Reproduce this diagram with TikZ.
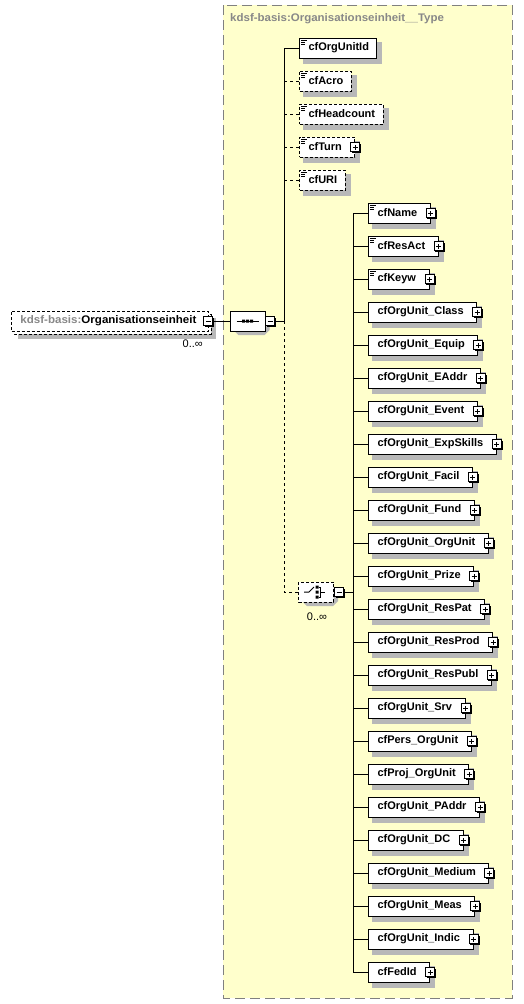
\documentclass[tikz,border=0pt]{standalone}
\usepackage{fontspec}
\usepackage{graphicx}
\setmainfont{Liberation Sans}
\usetikzlibrary{shapes.misc}
\pgfdeclarelayer{bglayer}
\pgfdeclarelayer{shlayer}
\pgfsetlayers{bglayer,shlayer,main}
\definecolor{bgyellow}{HTML}{FFFFCC}
\definecolor{bordergray}{HTML}{808080}
\definecolor{shgray}{HTML}{B8B8B8}
\definecolor{titlegray}{HTML}{888888}
\tikzset{
  conn/.style={draw=black,line width=1pt},
  dconn/.style={conn,dash pattern=on 3pt off 3pt},
  elbase/.style={draw=black,fill=white,line width=1pt,minimum height=20pt,
    inner xsep=0pt,inner ysep=0pt,anchor=west,font=\bfseries\fontsize{11}{13}\selectfont},
  optbox/.style={dash pattern=on 3pt off 2pt},
  pmbox/.style={draw=black,fill=white,line width=1pt,minimum size=9pt,inner sep=0pt},
  minusbox/.style={pmbox,path picture={\draw[line width=1pt]
     ([xshift=-2.5pt]path picture bounding box.center) -- ([xshift=2.5pt]path picture bounding box.center);}},
  plusbox/.style={pmbox,path picture={\draw[line width=1pt]
     ([xshift=-2.5pt]path picture bounding box.center) -- ([xshift=2.5pt]path picture bounding box.center)
     ([yshift=-2.5pt]path picture bounding box.center) -- ([yshift=2.5pt]path picture bounding box.center);}},
  compo/.style={chamfered rectangle,chamfered rectangle xsep=4.5pt,chamfered rectangle ysep=4.5pt,
    draw=black,fill=white,line width=1pt,minimum width=35pt,minimum height=20pt,inner sep=0pt},
  mult/.style={font=\fontsize{11}{13}\selectfont,inner sep=0pt},
}
% plus/minus box with its black offset edge
\newcommand\XPM[3]{%
  \fill[black] ([shift={(-3.5,-3.5)}]#2) rectangle ([shift={(6,6)}]#2);
  \node[#3] (#1) at (#2) {};
}
\newcommand\XShadow[1]{%
  \begin{pgfonlayer}{shlayer}
    \fill[shgray] ([shift={(4,4)}]#1.north west) rectangle ([shift={(5,5)}]#1.south east);
  \end{pgfonlayer}
}
\newcommand\XElem[7]{%
  \node[elbase,#5] (#1) at (#2,#3) {\hspace{9pt}#4\hspace{\ifnum#6=1 13pt\else 8pt\fi}\null};
  \XShadow{#1}
  \ifnum#7=1
    \draw[line width=1pt] ([shift={(2,2.5)}]#1.north west) -- ++(6,0)
      ([shift={(2,4.5)}]#1.north west) -- ++(4,0)
      ([shift={(2,6.5)}]#1.north west) -- ++(4,0);
  \fi
  \ifnum#6=1 \XPM{#1p}{#1.east}{plusbox}\fi
}
\newcommand\XOctShadow[1]{%
  \begin{pgfonlayer}{shlayer}
  \fill[shgray] ([shift={(-9,-6)}]#1) -- ([shift={(17,-6)}]#1) -- ([shift={(22,-1)}]#1)
    -- ([shift={(22,9)}]#1) -- ([shift={(17,14)}]#1) -- ([shift={(-9,14)}]#1)
    -- ([shift={(-14,9)}]#1) -- ([shift={(-14,-1)}]#1) -- cycle;
  \end{pgfonlayer}
}
\begin{document}
\begin{tikzpicture}[x=1pt,y=-1pt]
\useasboundingbox (0,0) rectangle (523,1004);
% type container
\begin{pgfonlayer}{bglayer}
\filldraw[fill=bgyellow,draw=bordergray,line width=1pt,dash pattern=on 10pt off 5pt]
  (223,5) rectangle (512,998);
\end{pgfonlayer}
\node[anchor=west,inner sep=0pt,text=titlegray,font=\bfseries\fontsize{11}{13}\selectfont]
  (title) at (230,19) {\scalebox{1.045}[1]{kdsf-basis:Organisationseinheit\_\_Type}};
% root element
\fill[shgray] (18,318) rectangle (216,339);
\filldraw[fill=white,draw=black,line width=1pt,optbox] (14,314) rectangle (211,334);
\node[elbase,optbox] (root) at (11,321)
  {\hspace{9pt}\scalebox{1.05}[1]{{\color{titlegray}kdsf-basis:}Organisationseinheit}\hspace{12pt}\null};
\coordinate (rootmc) at ([xshift=-0.5pt]root.east);
\XPM{rootm}{rootmc}{minusbox}
\node[mult,anchor=east] (rootmult) at (203,344) {0..∞};
% sequence
\node[compo] (seq) at (247.5,321) {};
\XOctShadow{seq.center}
\draw[line width=1pt] ([xshift=-11pt]seq.center) -- ([xshift=11pt]seq.center);
\fill ([shift={(-5.5,-1.5)}]seq.center) rectangle ++(3,3)
      ([shift={(-1.5,-1.5)}]seq.center) rectangle ++(3,3)
      ([shift={(2.5,-1.5)}]seq.center) rectangle ++(3,3);
\coordinate (seqmc) at ([xshift=4.5pt]seq.east);
\XPM{seqm}{seqmc}{minusbox}
\draw[conn] (rootm.east) -- (seq.west);
\coordinate (t1) at (284,321);
\draw[conn] (seqm.east) -- (t1);
% first column
\XElem{e1}{299}{48}{cfOrgUnitId}{}{0}{1}
\XElem{e2}{299}{81}{cfAcro}{optbox}{0}{1}
\XElem{e3}{299}{114}{cfHeadcount}{optbox}{0}{1}
\XElem{e4}{299}{147}{cfTurn}{optbox}{1}{1}
\XElem{e5}{299}{180}{cfURI}{optbox}{0}{1}
\draw[conn] (e1.west) -| (t1);
\foreach \i in {2,...,5} {\draw[dconn] (t1 |- e\i.west) -- (e\i.west);}
% choice
\node[compo,dash pattern=on 3pt off 2pt] (ch) at (316,592) {};
\XOctShadow{ch.center}
\draw[line width=1pt] ([xshift=-12pt]ch.center) -- ([xshift=-7pt]ch.center) -- ([shift={(-2,-5)}]ch.center);
\fill ([shift={(-0.5,-6.5)}]ch.center) rectangle ++(3,3)
      ([shift={(-0.5,-1.5)}]ch.center) rectangle ++(3,3)
      ([shift={(-0.5,3.5)}]ch.center) rectangle ++(3,3);
\draw[line width=1pt] ([shift={(2.5,-5)}]ch.center) -- ([shift={(4.5,-5)}]ch.center)
   -- ([shift={(4.5,5)}]ch.center) -- ([shift={(2.5,5)}]ch.center)
   ([shift={(4.5,0)}]ch.center) -- ([shift={(9,0)}]ch.center);
\coordinate (chmc) at ([xshift=5pt]ch.east);
\XPM{chm}{chmc}{minusbox}
\node[mult] (chmult) at (317,617) {0..∞};
\draw[dconn] (t1) |- (ch.west);
\coordinate (t2) at (353,592);
\draw[conn] (chm.east) -- (t2);
% second column
\foreach \t [count=\i] in {cfName,cfResAct,cfKeyw,cfOrgUnit\_Class,cfOrgUnit\_Equip,
  cfOrgUnit\_EAddr,cfOrgUnit\_Event,cfOrgUnit\_ExpSkills,cfOrgUnit\_Facil,cfOrgUnit\_Fund,
  cfOrgUnit\_OrgUnit,cfOrgUnit\_Prize,cfOrgUnit\_ResPat,cfOrgUnit\_ResProd,cfOrgUnit\_ResPubl,
  cfOrgUnit\_Srv,cfPers\_OrgUnit,cfProj\_OrgUnit,cfOrgUnit\_PAddr,cfOrgUnit\_DC,
  cfOrgUnit\_Medium,cfOrgUnit\_Meas,cfOrgUnit\_Indic,cfFedId} {
  \pgfmathtruncatemacro\yy{180+33*\i}
  \ifnum\i<4 \def\ic{1}\else\def\ic{0}\fi
  \XElem{f\i}{368}{\yy}{\t}{}{1}{\ic}
  \draw[conn] (t2 |- f\i.west) -- (f\i.west);
}
\draw[conn] (t2 |- f1.west) -- (t2 |- f24.west);
\end{tikzpicture}
\end{document}
